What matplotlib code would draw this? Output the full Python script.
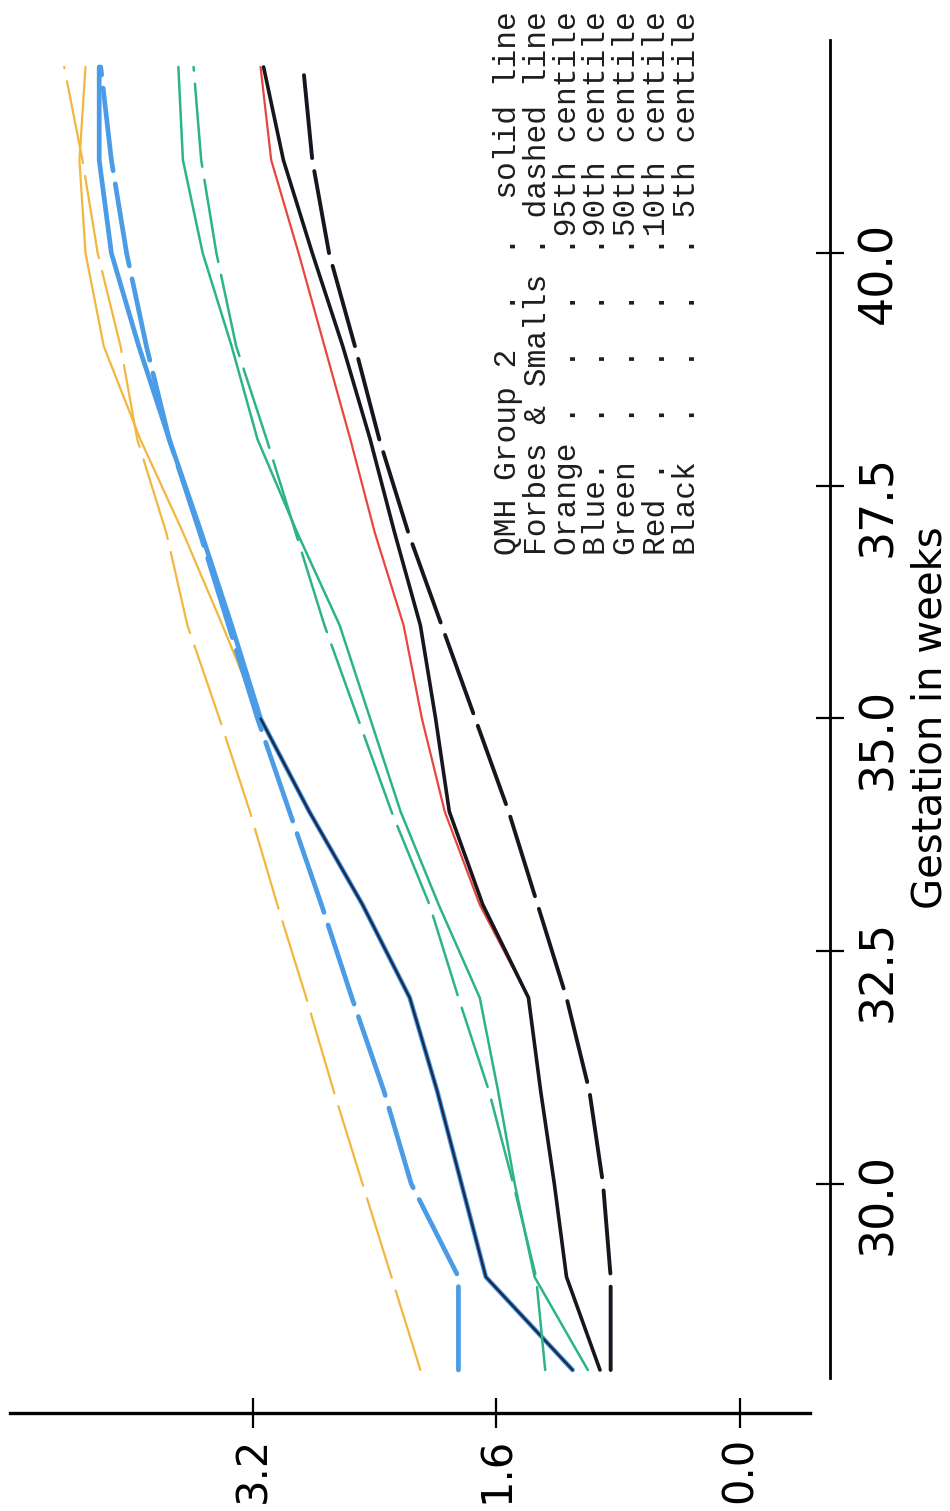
import numpy as np
import matplotlib
matplotlib.use("Agg")
import matplotlib.pyplot as plt
import matplotlib.transforms as mtransforms

# gestation (weeks) and birthweight centiles (kg)
weeks = [28, 29, 30, 31, 32, 33, 34, 35, 36, 37, 38, 39, 40, 41, 42]

# QMH Group 2 (solid lines)
qmh_95 = [1.10, 1.67, 1.83, 1.99, 2.17, 2.48, 2.83, 3.15, 3.40, 3.66, 3.94, 4.18, 4.30, 4.34, 4.30]
qmh_90 = [1.10, 1.67, 1.83, 1.99, 2.17, 2.48, 2.83, 3.15, 3.34, 3.54, 3.75, 3.95, 4.13, 4.21, 4.21]
qmh_50 = [1.00, 1.35, 1.48, 1.59, 1.71, 1.98, 2.23, 2.43, 2.63, 2.91, 3.17, 3.34, 3.53, 3.66, 3.69]
qmh_10 = [0.92, 1.14, 1.22, 1.31, 1.39, 1.71, 1.94, 2.09, 2.21, 2.40, 2.56, 2.73, 2.90, 3.08, 3.15]
qmh_5 = [0.92, 1.14, 1.22, 1.31, 1.39, 1.69, 1.91, 2.00, 2.10, 2.27, 2.43, 2.61, 2.81, 3.00, 3.13]

# Forbes & Smalls (dashed lines)
fs_95 = [2.10, 2.29, 2.48, 2.67, 2.85, 3.04, 3.22, 3.42, 3.63, 3.77, 3.96, 4.07, 4.22, 4.32, 4.44]
fs_90 = [1.85, 1.85, 2.16, 2.34, 2.55, 2.75, 2.96, 3.17, 3.36, 3.55, 3.75, 3.90, 4.03, 4.13, 4.20]
fs_50 = [1.28, 1.34, 1.49, 1.65, 1.85, 2.04, 2.29, 2.51, 2.73, 2.92, 3.11, 3.31, 3.44, 3.54, 3.59]
fs_5 = [0.85, 0.85, 0.90, 0.99, 1.14, 1.33, 1.52, 1.74, 1.96, 2.18, 2.37, 2.53, 2.70, 2.81, 2.87]

weight_ticks = [0.0, 1.6, 3.2]
weight_labels = ["0.0", "1.6", "3.2"]
week_ticks = [30.0, 32.5, 35.0, 37.5, 40.0]
week_labels = ["30.0", "32.5", "35.0", "37.5", "40.0"]

legend_rows = [
    "QMH Group 2  .  .  solid line",
    "Forbes & Smalls . dashed line",
    "Orange .  .  .  .95th centile",
    "Blue.  .  .  .  .90th centile",
    "Green  .  .  .  .50th centile",
    "Red .  .  .  .  .10th centile",
    "Black  .  .  .  . 5th centile",
]

ORANGE = "#f3b640"
BLUE = "#4b9ce6"
NAVY = "#1d2b4f"
GREEN = "#2db38a"
RED = "#e8453f"
BLACK = "#16161f"

plt.rcParams["lines.scale_dashes"] = False
plt.rcParams["lines.solid_capstyle"] = "round"
plt.rcParams["lines.dash_capstyle"] = "round"

W, H = 950, 1511
fig = plt.figure(figsize=(W / 100, H / 100), dpi=100)
# page is turned on its side: weight runs right-to-left, gestation bottom-to-top
ax = fig.add_axes([10 / W, 1 - 1413 / H, 820 / W, 1373 / H])
ax.set_xlim(4.796, -0.591)
ax.set_ylim(27.538, 42.29)

dash = (60, 9.5)
ax.plot(fs_95, weeks, color=ORANGE, lw=1.6, dashes=dash)
ax.plot(qmh_95, weeks, color=ORANGE, lw=1.6)
ax.plot(fs_90, weeks, color=BLUE, lw=3.4, dashes=dash)
ax.plot(qmh_90, weeks, color=BLUE, lw=3.4)

# where the 95th and 90th QMH lines coincide the inks mix to a dark blue
same = np.isclose(qmh_95, qmh_90)
w_arr = np.array(weeks)
ax.plot(np.where(same, qmh_90, np.nan), w_arr, color=NAVY, lw=1.8)

ax.plot(fs_50, weeks, color=GREEN, lw=1.8, dashes=dash)
ax.plot(qmh_50, weeks, color=GREEN, lw=1.8)
ax.plot(qmh_10, weeks, color=RED, lw=1.6)
ax.plot(qmh_5, weeks, color=BLACK, lw=2.6)
ax.plot(fs_5, weeks, color=BLACK, lw=2.8, dashes=dash)

for side in ["top", "left"]:
    ax.spines[side].set_visible(False)
ax.spines["right"].set_linewidth(2.0)
ax.spines["bottom"].set_linewidth(2.4)
ax.spines["right"].set_bounds(27.91, 42.29)
ax.spines["bottom"].set_bounds(-0.46, 4.796)

ax.set_xticks(weight_ticks)
ax.set_xticklabels(weight_labels, rotation=90, fontsize=30)
ax.set_yticks(week_ticks)
ax.set_yticklabels(week_labels, rotation=90, fontsize=33, va="center")
ax.yaxis.tick_right()
ax.tick_params(axis="x", direction="inout", length=22, width=1.6, pad=6)
ax.tick_params(axis="y", direction="inout", length=20, width=1.6, pad=9)

# the plotter put the week numbers a little below their ticks
shift = mtransforms.ScaledTranslation(0, -0.2, fig.dpi_scale_trans)
for lab in ax.get_yticklabels():
    lab.set_transform(lab.get_transform() + shift)

ax.yaxis.set_label_position("right")
ax.set_ylabel("Gestation in weeks", fontsize=29, rotation=90)
ax.yaxis.label.set_rotation_mode("default")
ax.yaxis.label.set_va("center")
ax.yaxis.label.set_ha("center")
ax.yaxis.set_label_coords((930 - 10) / 820, (1413 - 718) / 1373)

for i, row in enumerate(legend_rows):
    x = 508 + i * 29.8
    fig.text(x / W, 1 - 555 / H, row, rotation=90, ha="center", va="bottom",
             family="Liberation Mono", fontsize=22.5, color="#1e1e1e")

fig.savefig("out.png", dpi=100, facecolor="white")
